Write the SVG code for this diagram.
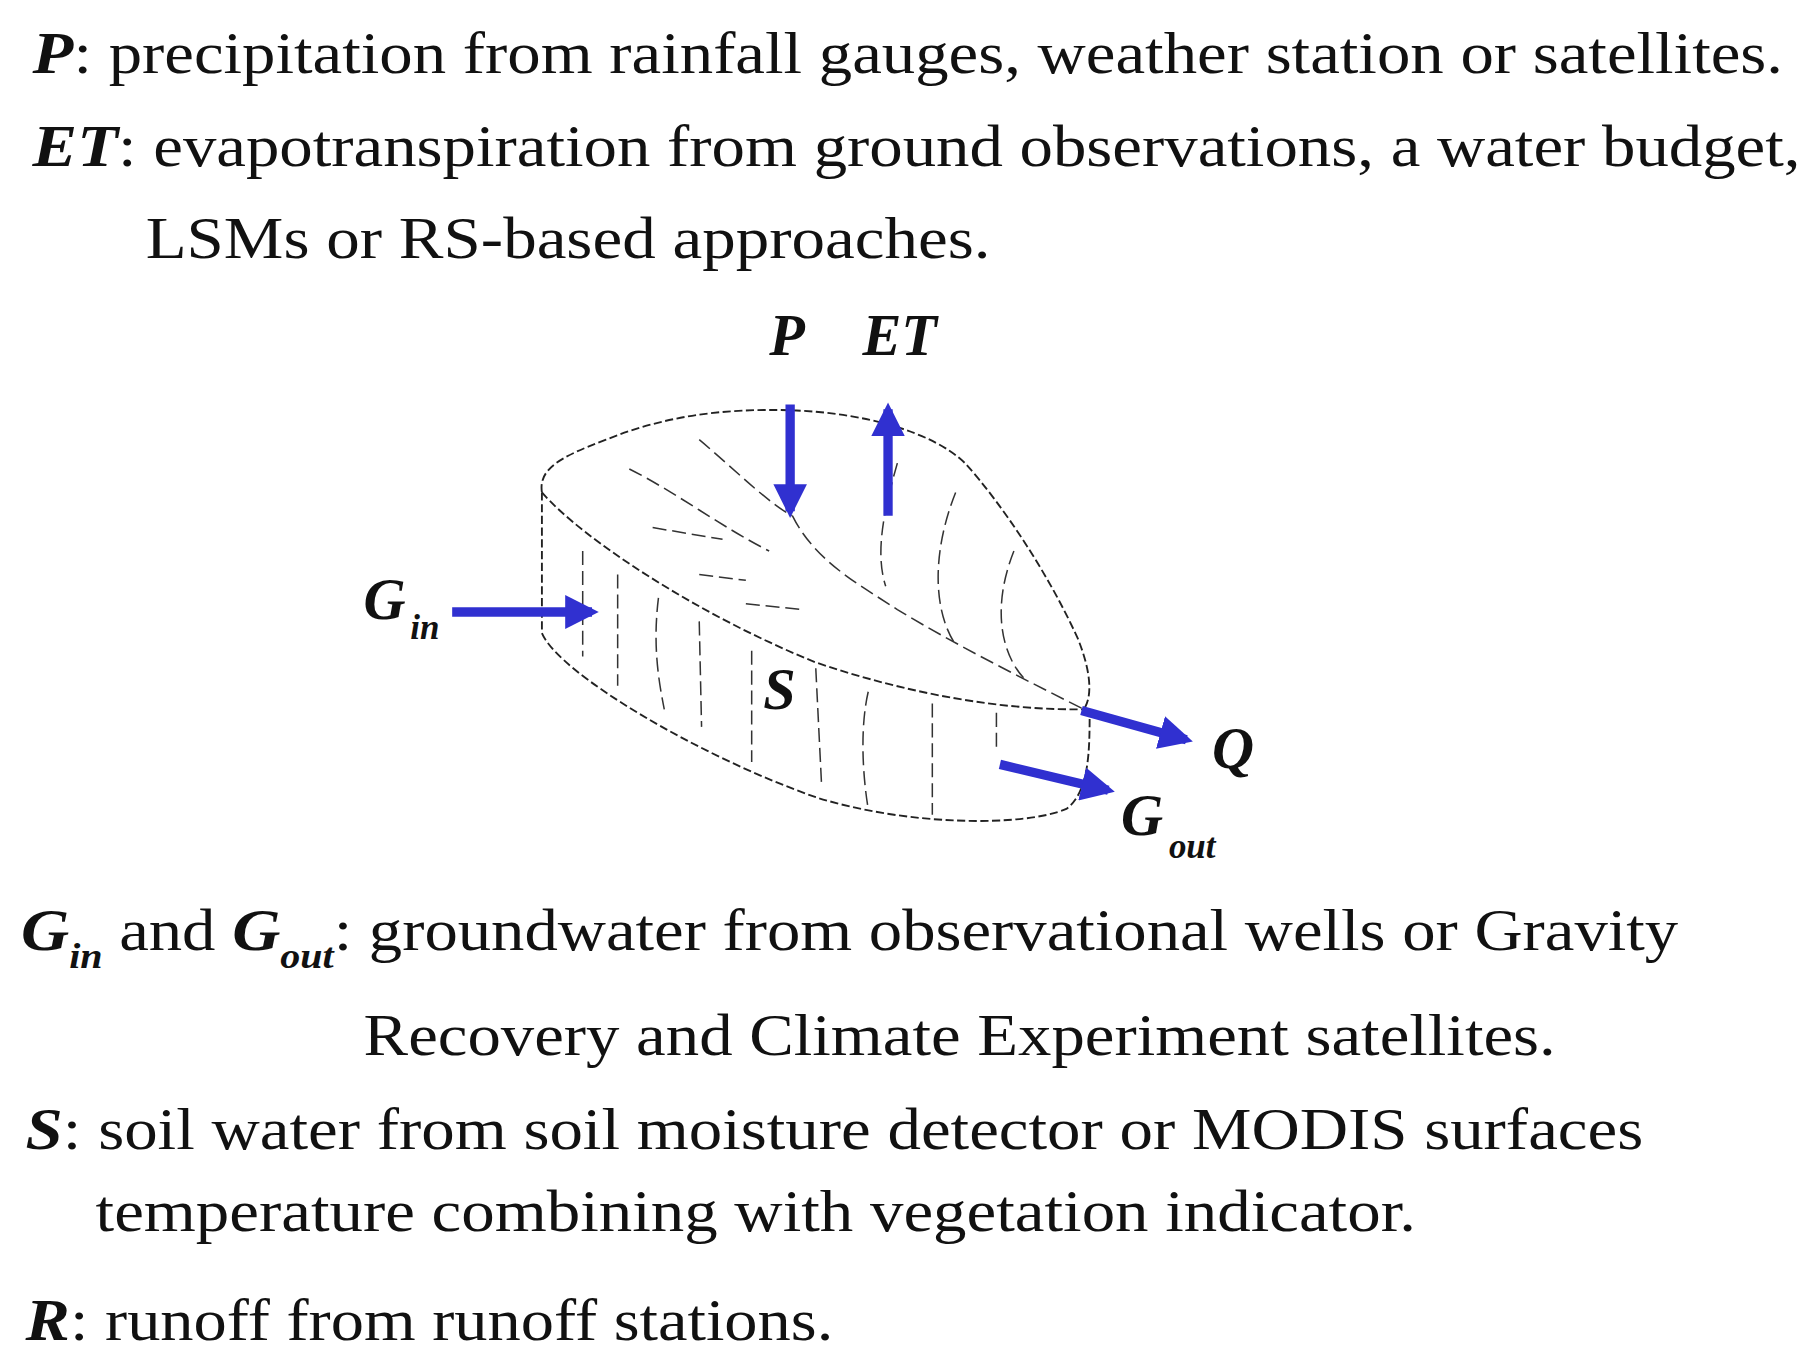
<svg xmlns="http://www.w3.org/2000/svg" width="1818" height="1362" viewBox="0 0 1818 1362">
<style>
text{font-family:"Liberation Serif","Times New Roman",serif;font-size:50px;fill:#111}
.b{font-weight:bold;font-style:italic}
.sub{font-size:30px;font-weight:bold;font-style:italic}
.o{fill:none;stroke:#222;stroke-width:1.6;stroke-dasharray:7 3}
.h{fill:none;stroke:#333;stroke-width:1.3;stroke-dasharray:12 5}
.a{stroke:#3030d0;stroke-width:8;fill:none}
</style>
<defs><marker id="ah" viewBox="0 0 10 10" refX="8" refY="5" markerWidth="3.6" markerHeight="3.6" orient="auto"><path d="M0,0L10,5L0,10z" fill="#3030d0"/></marker></defs>
<rect width="1818" height="1362" fill="#fff"/>
<g transform="scale(1.1654 1.1724)">
<g id="texts">
<text x="28" y="62" textLength="1502" lengthAdjust="spacingAndGlyphs"><tspan class="b">P</tspan>: precipitation from rainfall gauges, weather station or satellites.</text>
<text x="28" y="142" textLength="1517" lengthAdjust="spacingAndGlyphs"><tspan class="b">ET</tspan>: evapotranspiration from ground observations, a water budget,</text>
<text x="125" y="220" textLength="725" lengthAdjust="spacingAndGlyphs">LSMs or RS-based approaches.</text>
<text x="18" y="810" textLength="1422" lengthAdjust="spacingAndGlyphs"><tspan class="b">G</tspan><tspan class="sub" dy="16">in</tspan><tspan dy="-16"> and </tspan><tspan class="b">G</tspan><tspan class="sub" dy="16">out</tspan><tspan dy="-16">: groundwater from observational wells or Gravity</tspan></text>
<text x="312" y="900" textLength="1023" lengthAdjust="spacingAndGlyphs">Recovery and Climate Experiment satellites.</text>
<text x="22" y="980" textLength="1388" lengthAdjust="spacingAndGlyphs"><tspan class="b">S</tspan>: soil water from soil moisture detector or MODIS surfaces</text>
<text x="82" y="1050" textLength="1133" lengthAdjust="spacingAndGlyphs">temperature combining with vegetation indicator.</text>
<text x="22" y="1143" textLength="693" lengthAdjust="spacingAndGlyphs"><tspan class="b">R</tspan>: runoff from runoff stations.</text>
</g>
<g id="basin">
<path class="o" d="M465,420 C462,400 480,390 520,375 C570,355 620,348 680,350 C740,352 800,368 828,395 C860,430 900,490 925,545 C937,575 937,595 930,605"/>
<path class="o" d="M465,420 C500,460 600,525 700,565 C780,592 860,606 930,605"/>
<path class="o" d="M465,420 L465,540 C480,575 600,645 700,680 C780,705 880,705 915,690 C935,675 935,640 935,605"/>
<path class="h" d="M680,440 C700,480 740,500 770,520 C820,550 880,580 930,605"/>
<path class="h" d="M600,375 C630,400 660,430 680,440 M540,400 C580,420 620,450 660,470 M770,395 C760,430 750,470 760,500 M820,420 C800,470 800,520 820,550 M870,470 C850,520 860,560 880,580 M560,450 L620,460 M640,515 L690,520 M600,490 L640,495"/>
<path class="h" d="M500,470 L500,560 M530,490 L530,585 M565,510 C560,550 565,580 570,605 M600,530 L602,620 M645,555 L645,650 M700,570 L705,670 M745,590 C738,620 740,660 745,690 M800,600 L800,695 M855,608 L855,640"/>
</g>
<g id="labels">
<text class="b" x="660" y="303">P</text>
<text class="b" x="740" y="303">ET</text>
<text class="b" x="312" y="528">G</text><text class="sub" x="352" y="545">in</text>
<text class="b" x="655" y="605">S</text>
<text class="b" x="1040" y="655">Q</text>
<text class="b" x="962" y="712">G</text><text class="sub" x="1003" y="732">out</text>
</g>
<g id="connectors">
<line class="a" x1="678" y1="345" x2="678" y2="436" marker-end="url(#ah)"/>
<line class="a" x1="762" y1="440" x2="762" y2="349" marker-end="url(#ah)"/>
<line class="a" x1="388" y1="522" x2="508" y2="522" marker-end="url(#ah)"/>
<line class="a" x1="928" y1="606" x2="1018" y2="631" marker-end="url(#ah)"/>
<line class="a" x1="858" y1="652" x2="951" y2="674" marker-end="url(#ah)"/>
</g>
</g>
</svg>
